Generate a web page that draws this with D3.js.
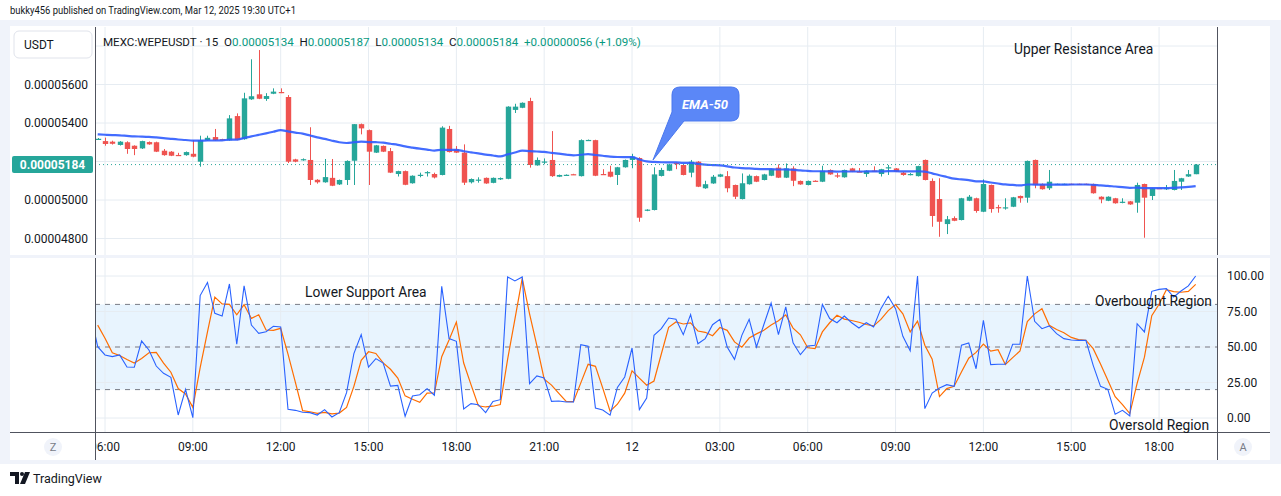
<!DOCTYPE html>
<html>
<head>
<meta charset="utf-8">
<script src="https://cdn.jsdelivr.net/npm/d3@7/dist/d3.min.js"></script>
<style>
  body { margin: 0; background: #ffffff; }
  svg text { font-family: Roboto, "Noto Sans", sans-serif; }
</style>
</head>
<body>
<div id="chart"></div>
<script>
// ---- data (prices in units of 1e-8 USDT, 15 min bars from Mar 11 05:45) ----
var startTime = "2025-03-11T05:45:00Z";
var barMinutes = 15;
var priceUnit = 1e-8;

var open = [5315,5306,5303,5286,5300,5282,5268,5301,5300,5256,5251,5234,5233,5240,5199,5310,5327,5316,5310,5436,
            5316,5523,5549,5525,5552,5561,5535,5211,5208,5208,5105,5092,5115,5081,5104,5204,5394,5363,5246,5281,
            5254,5135,5150,5087,5128,5142,5135,5130,5369,5263,5246,5092,5103,5115,5089,5107,5110,5468,5479,5514,
            5180,5197,5208,5121,5129,5134,5124,5310,5311,5135,5147,5130,5170,5208,5218,4945,4948,5125,5152,5192,
            5182,5142,5199,5061,5086,5121,5124,5078,5005,5082,5124,5104,5126,5168,5116,5164,5099,5078,5100,5095,
            5156,5128,5118,5164,5148,5135,5153,5135,5168,5164,5142,5133,5124,5208,5099,5005,4875,4906,4896,4996,
            5009,4939,5078,4963,4962,4965,5021,5012,5208,5083,5061,5082,5083,5084,5084,5084,5083,5017,4996,5009,
            4989,4993,4986,5083,5021,5062,5060,5052,5095,5122,5134];
var high = [5322,5324,5308,5306,5305,5284,5308,5304,5303,5265,5254,5245,5252,5311,5334,5334,5369,5318,5441,5450,
            5557,5731,5779,5555,5580,5580,5545,5214,5216,5378,5108,5213,5213,5106,5206,5394,5397,5366,5286,5283,
            5270,5152,5153,5128,5142,5150,5142,5383,5385,5280,5289,5112,5118,5117,5117,5117,5487,5500,5507,5531,
            5221,5216,5358,5132,5133,5136,5315,5314,5313,5160,5178,5172,5210,5240,5222,4952,5170,5167,5188,5195,
            5185,5208,5202,5100,5130,5136,5150,5080,5138,5133,5127,5136,5162,5185,5190,5175,5101,5101,5102,5178,
            5159,5140,5158,5167,5166,5154,5175,5162,5182,5166,5146,5140,5178,5210,5112,5113,4917,4915,5011,5026,
            5012,5107,5080,4975,5009,5016,5023,5205,5210,5086,5156,5085,5085,5085,5085,5085,5085,5019,5019,5011,
            5009,4995,5090,5085,5063,5063,5078,5156,5115,5156,5187];
var low  = [5312,5282,5288,5283,5240,5233,5265,5287,5249,5230,5228,5232,5230,5222,5173,5308,5308,5313,5308,5310,
            5313,5520,5524,5515,5550,5555,5192,5196,5204,5078,5085,5090,5072,5078,5078,5078,5341,5078,5244,5249,
            5140,5122,5077,5085,5118,5122,5112,5128,5247,5244,5078,5086,5090,5084,5087,5104,5108,5452,5477,5168,
            5178,5186,5120,5119,5127,5131,5122,5308,5124,5132,5118,5078,5168,5165,4887,4942,4946,5122,5150,5160,
            5128,5118,5067,5058,5084,5119,5040,5005,5003,5080,5093,5102,5124,5114,5114,5072,5079,5076,5097,5093,
            5131,5115,5116,5145,5146,5120,5150,5122,5130,5145,5126,5128,5122,5102,4861,4809,4823,4890,4894,4994,
            4934,4937,4934,4934,4950,4963,4986,4986,5061,5054,5052,5081,5081,5082,5082,5082,5033,4983,4994,4981,
            4983,4975,4934,4804,5000,5060,5052,5050,5052,5120,5134];
var close = [5318,5291,5292,5303,5265,5265,5306,5289,5251,5233,5230,5233,5249,5225,5311,5323,5310,5315,5424,5312,
             5528,5539,5526,5540,5563,5557,5199,5199,5212,5104,5092,5119,5074,5104,5203,5394,5372,5251,5284,5251,
             5142,5150,5079,5126,5131,5145,5117,5376,5249,5246,5090,5109,5106,5086,5115,5114,5485,5485,5505,5182,
             5208,5200,5124,5130,5131,5132,5311,5312,5126,5133,5121,5170,5208,5225,4908,4950,5133,5156,5185,5188,
             5130,5199,5069,5082,5121,5133,5061,5017,5087,5126,5095,5133,5160,5116,5164,5100,5081,5099,5099,5152,
             5133,5126,5156,5147,5147,5152,5152,5160,5170,5147,5130,5135,5176,5104,4917,4887,4900,4892,5009,5017,
             4943,5083,4953,4960,4962,5014,5009,5203,5078,5056,5095,5084,5084,5083,5083,5083,5035,5003,5017,4983,
             4991,4977,5078,5012,5061,5061,5062,5099,5113,5134,5184];

// EMA-50 value read at the first bar, the rest follows from the closes
var emaStart = 5341;
var emaPeriod = 50;

// Stoch RSI %K, starting two bars before the first candle (05:15)
var stochK = [72,74,
  50.2,44.4,43.2,44.4,35.9,35.7,54.2,47.9,36.6,31.5, 28.6,2.1,20.2,0.2,86.2,95.5,73.7,71.8,94.4,51.9,
  93,65.5,59.6,60.8,64.6,64.1,6.1,5.4,4,3.8, 2.1,5.9,0.7,3.8,17.8,45.3,58.7,35.9,41.8,38.7,
  22.5,23,1.2,15.5,16.4,20.7,16,92.7,55.9,54, 6.3,10.1,9.4,3.8,11.7,12.9,99.3,96.5,99.3,24.2,
  29.6,28.2,11.7,12,11.3,11.3,51.6,50.5,7,5.6, 2,21.5,28.9,49.3,5.9,14.1,58.2,62.9,70.4,69.5,
  58.7,72.8,52.3,55.9,65.7,69.5,50,41.3,58.2,69.5, 50,65.7,81,58.7,78.2,53,44.6,50.7,51.2,80,
  70,67.1,71.8,67.1,63.4,67.1,64.1,77,85.7,77, 57.5,47.3,100,6.6,17.6,21.1,23.5,22.3,51.2,52.8,
  34.7,68.8,37.6,37.8,37.8,51.9,51.9,100,68.1,62.9, 64.8,59.4,55.9,54.9,54.7,54.7,37.1,22.3,20.2,2.6,
  5.4,1.4,66.4,60.6,89.2,90.6,91.1,85.2,89.4,93, 100];
var kOffset = -2;
var dPeriod = 3;

var priceGrid = [4800,5000,5200,5400,5600,5800];
var priceTicks = [4800,5000,5200,5400,5600];
var oscTicks = [0,25,50,75,100];
var oscLevels = [20,50,80];

var legendParts = [
  {t:"MEXC:WEPEUSDT · 15  O", c:"#131722"}, {t:"0.00005134", c:"#089981"},
  {t:"  H", c:"#131722"}, {t:"0.00005187", c:"#089981"},
  {t:"  L", c:"#131722"}, {t:"0.00005134", c:"#089981"},
  {t:"  C", c:"#131722"}, {t:"0.00005184", c:"#089981"},
  {t:"  +0.00000056 (+1.09%)", c:"#089981"}
];

// ---- layout ----
var W = 1281, H = 496;
var plotL = 95, plotR = 1217;
var topT = 27, topB = 255, oscT = 258, oscB = 432;
var up = "#26a69a", down = "#ef5350", grid = "#e6ecf2";

var svg = d3.select("#chart").append("svg").attr("width", W).attr("height", H);

var t0 = new Date(startTime);
var timeAt = function(i){ return new Date(t0.getTime() + i*barMinutes*60000); };

var x = d3.scaleUtc()
  .domain([new Date("2025-03-11T05:39:30Z"), new Date("2025-03-12T19:58:42Z")])
  .range([plotL, plotR]);
var y = d3.scaleLinear().domain([4800, 5600]).range([238.5, 84.5]);
var yo = d3.scaleLinear().domain([0, 100]).range([418, 276]);

// frame
svg.append("rect").attr("x",0).attr("y",20).attr("width",W).attr("height",444).attr("fill","#f0f3fa");
svg.append("rect").attr("x",10).attr("y",26).attr("width",1260).attr("height",434).attr("fill","#ffffff");

svg.append("text").attr("x",10).attr("y",14).attr("font-size",10.8).attr("fill","#131722")
  .attr("textLength",286).attr("lengthAdjust","spacingAndGlyphs")
  .text("bukky456 published on TradingView.com, Mar 12, 2025 19:30 UTC+1");

var defs = svg.append("defs");
defs.append("clipPath").attr("id","clipTop").append("rect")
  .attr("x",plotL).attr("y",topT).attr("width",plotR-plotL).attr("height",topB-topT);
defs.append("clipPath").attr("id","clipOsc").append("rect")
  .attr("x",plotL).attr("y",oscT).attr("width",plotR-plotL).attr("height",oscB-oscT);
defs.append("clipPath").attr("id","clipAxis").append("rect")
  .attr("x",plotL+1).attr("y",oscB).attr("width",plotR-plotL-1).attr("height",30);

var hourTicks = x.ticks(d3.utcHour.every(3));

// grid
var gTop = svg.append("g").attr("clip-path","url(#clipTop)");
gTop.selectAll(".hg").data(priceGrid).enter().append("line")
  .attr("x1",plotL).attr("x2",plotR).attr("y1",function(d){return y(d);}).attr("y2",function(d){return y(d);})
  .attr("stroke",grid);
gTop.selectAll(".vg").data(hourTicks).enter().append("line")
  .attr("x1",function(d){return x(d);}).attr("x2",function(d){return x(d);}).attr("y1",topT).attr("y2",topB)
  .attr("stroke",grid);

var gOsc = svg.append("g").attr("clip-path","url(#clipOsc)");
gOsc.append("rect").attr("x",plotL).attr("width",plotR-plotL)
  .attr("y",yo(80)).attr("height",yo(20)-yo(80)).attr("fill","#2196f3").attr("fill-opacity",0.1);
gOsc.selectAll(".hg").data(oscTicks).enter().append("line")
  .attr("x1",plotL).attr("x2",plotR).attr("y1",function(d){return yo(d);}).attr("y2",function(d){return yo(d);})
  .attr("stroke",grid);
gOsc.selectAll(".vg").data(hourTicks).enter().append("line")
  .attr("x1",function(d){return x(d);}).attr("x2",function(d){return x(d);}).attr("y1",oscT).attr("y2",oscB)
  .attr("stroke",grid);
gOsc.selectAll(".lv").data(oscLevels).enter().append("line")
  .attr("x1",plotL).attr("x2",plotR).attr("y1",function(d){return yo(d);}).attr("y2",function(d){return yo(d);})
  .attr("stroke","#787b86").attr("stroke-dasharray","5,5");

// candles
var bars = open.map(function(o,i){
  return {t: timeAt(i), o:o, h:high[i], l:low[i], c:close[i]};
});
var bw = 5.4;
gTop.selectAll(".wick").data(bars).enter().append("line")
  .attr("x1",function(d){return Math.round(x(d.t))+0.5;}).attr("x2",function(d){return Math.round(x(d.t))+0.5;})
  .attr("y1",function(d){return y(d.h);}).attr("y2",function(d){return y(d.l);})
  .attr("stroke",function(d){return d.c>=d.o?up:down;}).attr("stroke-width",1);
gTop.selectAll(".body").data(bars).enter().append("rect")
  .attr("x",function(d){return Math.round(x(d.t))+0.5-bw/2;}).attr("width",bw)
  .attr("y",function(d){return y(Math.max(d.o,d.c));})
  .attr("height",function(d){return Math.max(1.2, Math.abs(y(d.o)-y(d.c)));})
  .attr("fill",function(d){return d.c>=d.o?up:down;});

// EMA-50 from closes
var k = 2/(emaPeriod+1), ema = [];
close.forEach(function(c,i){ ema.push(i===0 ? emaStart : ema[i-1] + k*(c-ema[i-1])); });
gTop.append("path").datum(ema)
  .attr("d", d3.line().x(function(d,i){return x(timeAt(i));}).y(function(d){return y(d);}).curve(d3.curveMonotoneX))
  .attr("fill","none").attr("stroke","#2f5cff").attr("stroke-width",2.2).attr("stroke-opacity",0.9);

// last price line
var last = close[close.length-1];
svg.append("line").attr("x1",plotL).attr("x2",plotR).attr("y1",y(last)).attr("y2",y(last))
  .attr("stroke",up).attr("stroke-width",1).attr("stroke-dasharray","1,3");

// stoch RSI
var kPts = stochK.map(function(v,j){ return {t: timeAt(j+kOffset), v:v}; });
var dPts = [];
for (var j = dPeriod-1; j < stochK.length; j++) {
  dPts.push({t: timeAt(j+kOffset), v: d3.mean(stochK.slice(j-dPeriod+1, j+1))});
}
var oline = d3.line().x(function(d){return x(d.t);}).y(function(d){return yo(d.v);});
gOsc.append("path").datum(dPts).attr("d",oline).attr("fill","none").attr("stroke","#ff6d00").attr("stroke-width",1.2);
gOsc.append("path").datum(kPts).attr("d",oline).attr("fill","none").attr("stroke","#2962ff").attr("stroke-width",1.1);

// borders
svg.append("line").attr("x1",plotL+0.5).attr("x2",plotL+0.5).attr("y1",topT).attr("y2",460).attr("stroke","#50535e");
svg.append("line").attr("x1",plotR+0.5).attr("x2",plotR+0.5).attr("y1",topT).attr("y2",460).attr("stroke","#50535e");
svg.append("rect").attr("x",10).attr("y",topB).attr("width",1260).attr("height",oscT-topB).attr("fill","#f0f3fa");
svg.append("line").attr("x1",10).attr("x2",1270).attr("y1",oscB+0.5).attr("y2",oscB+0.5).attr("stroke","#50535e");

// price axis (the tick nearest the last-price tag is hidden behind it)
var last = close[close.length-1];
svg.selectAll(".pt").data(priceTicks.filter(function(d){ return Math.abs(y(d)-y(last)) > 12; })).enter().append("text")
  .attr("x",88).attr("y",function(d){return y(d)+4;}).attr("text-anchor","end")
  .attr("font-size",12).attr("fill","#131722")
  .text(function(d){return (d*priceUnit).toFixed(8);});
svg.append("rect").attr("x",14).attr("y",31).attr("width",78).attr("height",27).attr("rx",5)
  .attr("fill","#fff").attr("stroke","#e0e3eb");
svg.append("text").attr("x",24).attr("y",49).attr("font-size",12).attr("fill","#131722").text("USDT");
svg.append("rect").attr("x",12).attr("y",y(last)-8.5).attr("width",81).attr("height",17).attr("rx",2).attr("fill",up);
svg.append("text").attr("x",52.5).attr("y",y(last)+4.5).attr("text-anchor","middle")
  .attr("font-size",12).attr("font-weight","bold").attr("fill","#fff").text((last*priceUnit).toFixed(8));

// oscillator axis
svg.selectAll(".ot").data(oscTicks).enter().append("text")
  .attr("x",1227).attr("y",function(d){return yo(d)+4;})
  .attr("font-size",12).attr("fill","#131722").text(function(d){return d.toFixed(2);});

// time axis
var fmt = function(d){ return d.getUTCHours()===0 ? d3.utcFormat("%-d")(d) : d3.utcFormat("%H:%M")(d); };
svg.append("g").attr("clip-path","url(#clipAxis)").selectAll(".tt").data(hourTicks).enter().append("text")
  .attr("x",function(d){return x(d);}).attr("y",451).attr("text-anchor","middle")
  .attr("font-size",12).attr("fill","#131722").text(fmt);
[[53,"Z"],[1243,"A"]].forEach(function(b){
  svg.append("circle").attr("cx",b[0]).attr("cy",447).attr("r",9).attr("fill","#f0f3fa");
  svg.append("text").attr("x",b[0]).attr("y",451).attr("text-anchor","middle")
    .attr("font-size",11).attr("fill","#787b86").text(b[1]);
});

// legend
var lg = svg.append("text").attr("x",103).attr("y",46).attr("font-size",11.6).attr("xml:space","preserve");
legendParts.forEach(function(p){ lg.append("tspan").attr("fill",p.c).text(p.t); });

// annotations
svg.append("text").attr("x",1014).attr("y",54).attr("font-size",13.8).attr("fill","#131722").text("Upper Resistance Area");
svg.append("text").attr("x",305).attr("y",297).attr("font-size",13.8).attr("fill","#131722").text("Lower Support Area");
svg.append("text").attr("x",1095).attr("y",306).attr("font-size",13.8).attr("fill","#131722").text("Overbought Region");
svg.append("text").attr("x",1109).attr("y",430).attr("font-size",13.8).attr("fill","#131722").text("Oversold Region");

// EMA-50 callout
svg.append("path")
  .attr("d","M680,87 H731 Q739,87 739,95 V113 Q739,121 731,121 H684 L653,160 L672,112 V95 Q672,87 680,87 Z")
  .attr("fill","#5b87f7").attr("stroke","#4a78ee").attr("stroke-width",1);
svg.append("text").attr("x",705).attr("y",109).attr("text-anchor","middle")
  .attr("font-size",13).attr("font-style","italic").attr("font-weight","bold").attr("fill","#fff").text("EMA-50");

// TradingView logo
var logo = svg.append("g").attr("transform","translate(10,472)");
logo.append("path").attr("d","M0,0 H9 V12 H5 V4 H0 Z").attr("fill","#131722");
logo.append("circle").attr("cx",12).attr("cy",2).attr("r",2).attr("fill","#131722");
logo.append("path").attr("d","M15,0 H20 L15,12 H10 Z").attr("fill","#131722");
svg.append("text").attr("x",33).attr("y",483).attr("font-size",12.5).attr("fill","#131722").text("TradingView");
</script>
</body>
</html>
